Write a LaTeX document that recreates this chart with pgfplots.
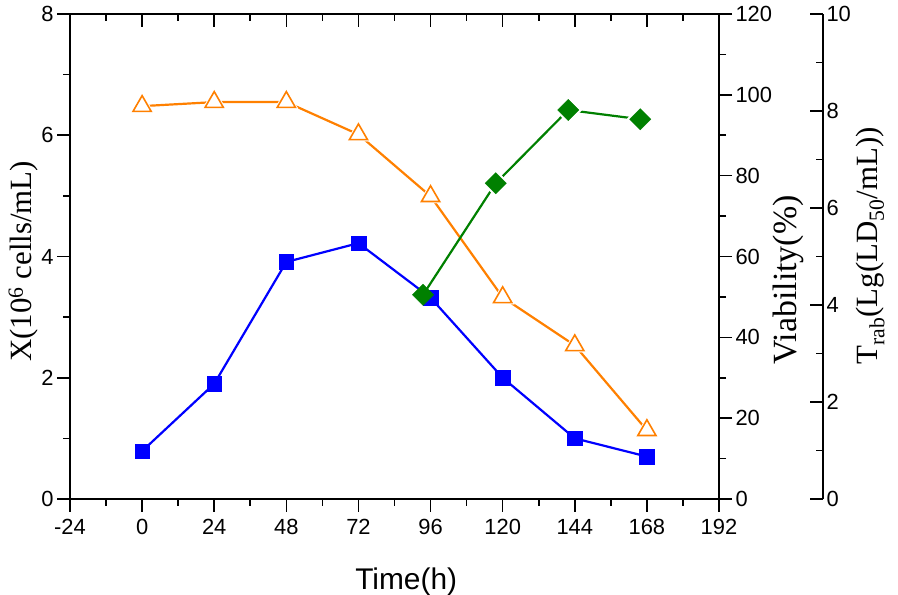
\documentclass[border=0pt]{standalone}
\usepackage{fontspec}
\setmainfont{Liberation Sans}
\newfontfamily\serifl{Liberation Serif}
\usepackage{pgfplots}
\pgfplotsset{compat=1.18}
\definecolor{cblue}{RGB}{0,0,255}
\definecolor{corange}{RGB}{255,128,0}
\definecolor{cgreen}{RGB}{0,128,0}
\begin{document}
\begin{tikzpicture}[x=1bp,y=1bp]
\path[use as bounding box] (0,0) rectangle (898,595);
\pgfplotsset{
  base/.style={scale only axis, width=649bp, height=485bp, at={(70bp,96bp)}, anchor=south west,
    xmin=-24, xmax=192, clip=false,
    every tick/.style={line width=1.6bp, black},
    major tick length=13bp, minor tick length=7bp,
    tick label style={font=\fontsize{22}{24}\selectfont},
    /pgf/number format/assume math mode=true,
    axis line style={line width=2.4bp},
    label style={font=\fontsize{30}{32}\selectfont},
  },
}
% Axis A: cell density
\begin{axis}[base, axis x line*=bottom, axis y line*=left, tick align=outside,
  ymin=0, ymax=8, ytick={0,2,4,6,8}, minor ytick={1,3,5,7},
  xtick={-24,0,24,48,72,96,120,144,168,192},
  xticklabels={-24,0,24,48,72,96,120,144,168,192},
  xticklabel style={yshift=-4bp},
  minor xtick={-12,12,36,60,84,108,132,156,180},
  xlabel={Time(h)},
  xlabel style={at={(rel axis cs:0.518,-0.1876)}, anchor=base},
  ylabel={\serifl X(10\textsuperscript{6} cells/mL)},
  ylabel style={at={(rel axis cs:-0.0586,0.490)}, anchor=base, font=\fontsize{31}{33}\selectfont},
]
\addplot[cblue, line width=2.2bp, mark=square*, mark size=7.3bp, mark options={solid, line width=0.4bp}]
  coordinates {(0,0.79) (24,1.90) (48,3.91) (72,4.22) (96,3.32) (120,2.00) (144,1.00) (168,0.70)};
\end{axis}
% Axis B: viability
\begin{axis}[base, axis x line*=top, axis y line*=right,
  xtick align=inside, ytick align=outside,
  ymin=0, ymax=120, ytick={0,20,...,120}, minor ytick={10,30,...,110},
  xtick={-24,0,24,48,72,96,120,144,168,192}, xticklabels={},
  minor xtick={-12,12,36,60,84,108,132,156,180},
  ylabel={\serifl Viability(\%)},
  ylabel style={at={(rel axis cs:1.120,0.4515)}, anchor=base, font=\fontsize{34}{36}\selectfont},
]
\addplot[corange, line width=2.2bp] coordinates {(0,97.2) (24,98.2) (48,98.2) (72,90.2) (96,74.9) (120,49.9) (144,38.0) (168,17.0)};
\addplot[only marks, mark=triangle*, mark size=13.5bp, mark options={fill=white, draw=white}]
  coordinates {(0,97.2) (24,98.2) (48,98.2) (72,90.2) (96,74.9) (120,49.9) (144,38.0) (168,17.0)};
\addplot[only marks, mark=triangle*, mark size=10.5bp, mark options={fill=white, draw=corange, line width=1.6bp}]
  coordinates {(0,97.2) (24,98.2) (48,98.2) (72,90.2) (96,74.9) (120,49.9) (144,38.0) (168,17.0)};
\end{axis}
% Axis C: rabies titre
\begin{axis}[base, width=753bp, xmax=226.61, axis x line=none, axis y line*=right,
  ytick align=inside,
  ymin=0, ymax=10, ytick={0,2,...,10}, minor ytick={1,3,...,9},
  ylabel={\serifl T\textsubscript{rab}(Lg(LD\textsubscript{50}/mL))},
  ylabel style={at={(rel axis cs:1.073,0.522)}, anchor=base, font=\fontsize{31}{33}\selectfont},
]
\addplot[cgreen, line width=2.2bp] coordinates {(93.5,4.21) (117.7,6.51) (141.8,8.02) (165.8,7.83)};
\addplot[only marks, mark=square*, mark size=9.6bp, mark options={rotate=45, fill=white, draw=white}]
  coordinates {(117.7,6.51) (141.8,8.02) (165.8,7.83)};
\addplot[only marks, mark=square*, mark size=7.5bp, mark options={rotate=45, fill=cgreen, draw=cgreen, line width=0.4bp}]
  coordinates {(93.5,4.21) (117.7,6.51) (141.8,8.02) (165.8,7.83)};
\end{axis}
\end{tikzpicture}
\end{document}
